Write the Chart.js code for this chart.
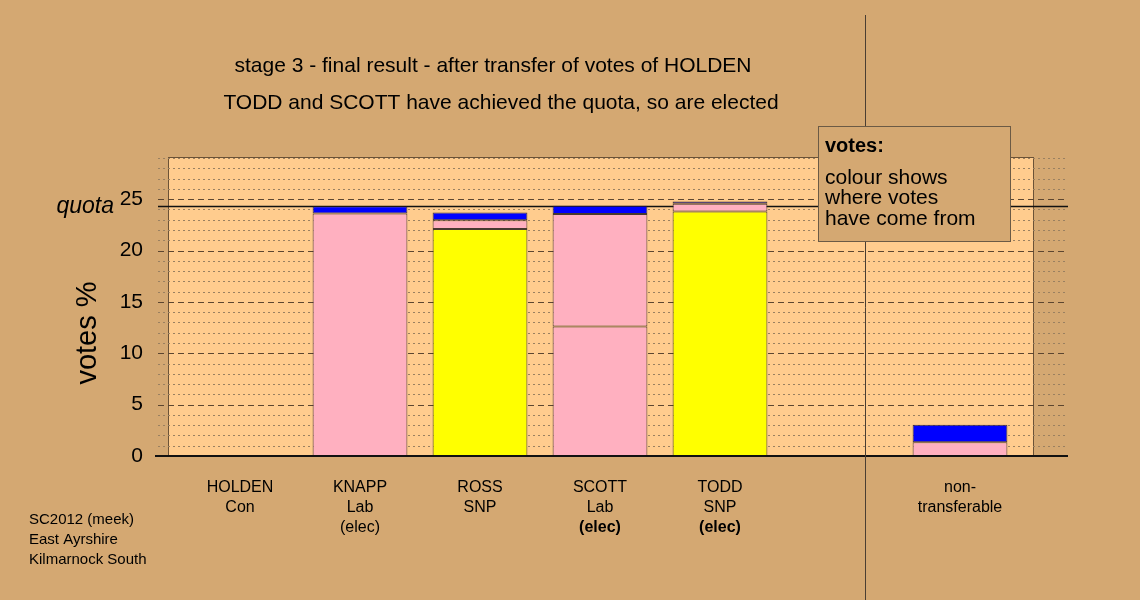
<!DOCTYPE html>
<html>
<head>
<meta charset="utf-8">
<script src="https://cdn.jsdelivr.net/npm/chart.js@4.4.0/dist/chart.umd.min.js"></script>
<style>
  html, body { margin: 0; padding: 0; background: #D4A872; }
  #wrap { width: 1140px; height: 600px; }
</style>
</head>
<body>
<div id="wrap"><canvas id="chart" width="1140" height="600"></canvas></div>
<script>
  // chart data
  const candidates = ['HOLDEN', 'KNAPP', 'ROSS', 'SCOTT', 'TODD', '', 'non-'];
  const parties = ['Con', 'Lab', 'SNP', 'Lab', 'SNP', '', 'transferable'];
  const elected = ['', '(elec)', '', '(elec)', '(elec)', '', ''];
  const electedBold = [false, false, false, true, true, false, false];

  // stacked segments, bottom to top
  const layer1 = [0, 23.6, 22.1, 12.6, 23.8, null, 1.34];
  const layer2 = [null, 0.7, 0.85, 10.95, 0.75, null, 1.69];
  const layer3 = [null, null, 0.75, 0.8, 0.22, null, null];

  const PINK = '#FFB0C0';
  const YELLOW = '#FFFF00';
  const BLUE = '#0000FF';
  const colours1 = [BLUE, PINK, YELLOW, PINK, YELLOW, PINK, PINK];
  const colours2 = [BLUE, BLUE, PINK, PINK, PINK, BLUE, BLUE];
  const colours3 = [BLUE, BLUE, BLUE, BLUE, BLUE, BLUE, BLUE];

  const quota = 24.29;
  const yTicks = [0, 5, 10, 15, 20, 25];
  const yMax = 29.1;

  const titleLines = [
    'stage 3 - final result - after transfer of votes of HOLDEN',
    'TODD and SCOTT have achieved the quota, so are elected'
  ];
  const legendLines = ['colour shows', 'where votes', 'have come from'];
  const footLines = ['SC2012 (meek)', 'East Ayrshire', 'Kilmarnock South'];

  const SANS = '"Liberation Sans", Arial, sans-serif';

  const BG = '#D4A872';
  const PLOT_BG = '#FFCC8E';

  const decor = {
    id: 'decor',
    beforeDraw(chart) {
      const { ctx, chartArea: a, scales: { y } } = chart;
      ctx.save();
      ctx.fillStyle = BG;
      ctx.fillRect(0, 0, chart.width, chart.height);

      // plot panel
      ctx.fillStyle = PLOT_BG;
      ctx.fillRect(a.left - 12, a.top, a.right - a.left + 25, a.bottom - a.top);
      ctx.strokeStyle = '#6b5236';
      ctx.lineWidth = 1;
      ctx.strokeRect(a.left - 12 + 0.5, a.top + 0.5, a.right - a.left + 25, a.bottom - a.top);

      // grid: dotted each unit, dashed each 5
      for (let v = 1; v <= Math.floor(yMax); v++) {
        const py = Math.round(y.getPixelForValue(v)) + 0.5;
        ctx.beginPath();
        if (v % 5 === 0) {
          ctx.setLineDash([6, 4]);
          ctx.strokeStyle = '#5c4630';
        } else {
          ctx.setLineDash([2, 3]);
          ctx.strokeStyle = '#9a8060';
        }
        ctx.moveTo(a.left - 22, py);
        ctx.lineTo(a.right + 48, py);
        ctx.stroke();
      }
      ctx.setLineDash([]);

      // quota line
      const qy = Math.round(y.getPixelForValue(quota)) + 0.5;
      ctx.strokeStyle = '#111';
      ctx.lineWidth = 1.5;
      ctx.beginPath();
      ctx.moveTo(a.left - 22, qy);
      ctx.lineTo(a.right + 48, qy);
      ctx.stroke();
      ctx.restore();
    },
    afterDraw(chart) {
      const { ctx, chartArea: a, scales: { x, y } } = chart;
      ctx.save();

      // zero axis
      ctx.strokeStyle = '#111';
      ctx.lineWidth = 2;
      ctx.beginPath();
      ctx.moveTo(a.left - 25, a.bottom);
      ctx.lineTo(a.right + 48, a.bottom);
      ctx.stroke();

      // divider before non-transferable
      ctx.strokeStyle = '#4a3e32';
      ctx.lineWidth = 1;
      ctx.beginPath();
      ctx.moveTo(865.5, 15);
      ctx.lineTo(865.5, 600);
      ctx.stroke();

      // note box
      ctx.fillStyle = BG;
      ctx.fillRect(818, 126, 192, 115);
      ctx.strokeStyle = '#6b5a45';
      ctx.strokeRect(818.5, 126.5, 192, 115);
      ctx.fillStyle = '#000';
      ctx.textAlign = 'left';
      ctx.textBaseline = 'middle';
      ctx.font = 'bold 20px ' + SANS;
      ctx.fillText('votes:', 825, 146);
      ctx.font = '21px ' + SANS;
      legendLines.forEach((t, i) => ctx.fillText(t, 825, 178 + i * 20.5));

      // titles
      ctx.textAlign = 'center';
      ctx.font = '21px ' + SANS;
      ctx.fillText(titleLines[0], 493, 66);
      ctx.fillText(titleLines[1], 501, 103);

      // quota label
      ctx.textAlign = 'right';
      ctx.font = 'italic 23px ' + SANS;
      ctx.fillText('quota', 114, y.getPixelForValue(quota));

      // y title
      ctx.save();
      ctx.translate(88, 333);
      ctx.rotate(-Math.PI / 2);
      ctx.textAlign = 'center';
      ctx.font = '29px ' + SANS;
      ctx.fillText('votes %', 0, 0);
      ctx.restore();

      // category labels
      ctx.textAlign = 'center';
      candidates.forEach((c, i) => {
        const px = x.getPixelForValue(i);
        ctx.font = '16px ' + SANS;
        ctx.fillText(c, px, 488);
        ctx.fillText(parties[i], px, 508);
        if (elected[i]) {
          ctx.font = (electedBold[i] ? 'bold ' : '') + '16px ' + SANS;
          ctx.fillText(elected[i], px, 528);
        }
      });

      // footnote
      ctx.textAlign = 'left';
      ctx.font = '15px ' + SANS;
      footLines.forEach((t, i) => ctx.fillText(t, 29, 520 + i * 20));
      ctx.restore();
    }
  };

  const barStyle = { borderColor: 'rgba(40,30,30,0.85)', borderWidth: 1, borderSkipped: false, barPercentage: 0.79, categoryPercentage: 1, stack: 'v' };

  new Chart(document.getElementById('chart'), {
    type: 'bar',
    data: {
      labels: candidates,
      datasets: [
        Object.assign({ label: 'first', data: layer1, backgroundColor: colours1 }, barStyle),
        Object.assign({ label: 'second', data: layer2, backgroundColor: colours2 }, barStyle),
        Object.assign({ label: 'third', data: layer3, backgroundColor: colours3 }, barStyle)
      ]
    },
    options: {
      responsive: false,
      animation: false,
      devicePixelRatio: 1,
      layout: { padding: { left: 0, right: 120, top: 157, bottom: 0 } },
      plugins: { legend: { display: false }, tooltip: { enabled: false } },
      scales: {
        x: {
          stacked: true,
          offset: true,
          grid: { display: false, drawTicks: false },
          border: { display: false },
          ticks: { display: false },
          afterFit: s => { s.height = 144; }
        },
        y: {
          stacked: true,
          min: 0,
          max: yMax,
          afterBuildTicks: s => { s.ticks = yTicks.map(v => ({ value: v })); },
          ticks: { color: '#000', padding: 37, font: { size: 21, family: SANS } },
          grid: { display: false, drawTicks: false },
          border: { display: false },
          afterFit: s => { s.width = 180; }
        }
      }
    },
    plugins: [decor]
  });
</script>
</body>
</html>
